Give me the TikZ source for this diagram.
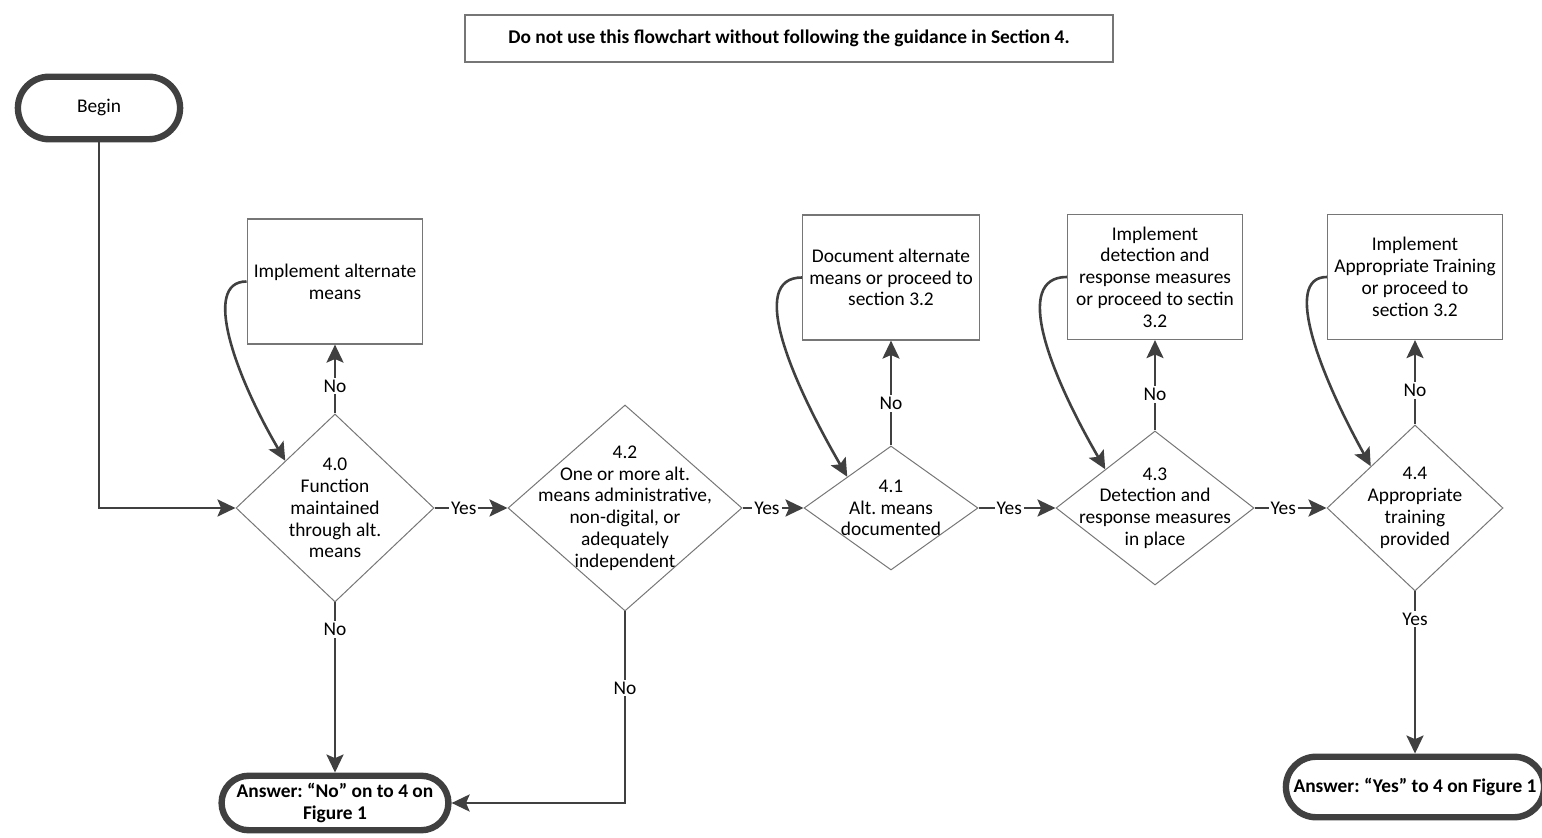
\documentclass[tikz,border=0pt]{standalone}
\usepackage{fontspec}
\setmainfont{Carlito}
\frenchspacing
\usepackage{tikz}
\usetikzlibrary{shapes,arrows.meta}
\usetikzlibrary{positioning}
\usetikzlibrary{shapes.geometric,shapes.misc}
\definecolor{linegray}{RGB}{64,64,64}
\definecolor{boxgray}{RGB}{118,118,118}
\tikzstyle{decision} = [draw=boxgray, diamond, inner sep=0pt, line width=0.5pt]
\tikzstyle{block} = [draw=boxgray, rectangle, align=center, line width=0.6pt,
minimum width=87.5pt, minimum height=62.5pt]
\tikzstyle{line} = [draw, -{Stealth[length=9pt,width=8.5pt,inset=1.8pt]}, color=linegray, line width=1.3pt]

\begin{document}
\begin{tikzpicture}[x=0.5pt, y=-0.5pt, font=\fontsize{9.7}{10.9}\selectfont,
	terminal/.style={draw=linegray, rounded rectangle, line width=3.2pt, align=center},
	tag/.style={fill=white, inner sep=1pt, text=black}]
	\useasboundingbox (0,0) rectangle (1542,838);
	\node [draw=boxgray, line width=0.6pt, minimum width=324pt, minimum height=23.5pt,
		font=\fontsize{9.7}{10.9}\selectfont\bfseries] (warn) at (789,38.5)
		{Do not use this flowchart without following the guidance in Section 4.};
	\node [terminal, minimum width=87.75pt, minimum height=31.25pt] (begin) at (99,108) {Begin};
	%% Questions
	\node [decision, minimum width=99pt, minimum height=94pt, label={[align=center]center:{4.0\\Function\\maintained\\through alt.\\means}}] (d40) at (335,508) {};
	\node [decision, minimum width=117pt, minimum height=103pt, label={[align=center]center:{4.2\\One or more alt.\\means administrative,\\non-digital, or\\adequately\\independent}}] (d42) at (625,508) {};
	\node [decision, minimum width=87pt, minimum height=62pt, label={[align=center]center:{4.1\\Alt. means\\documented}}] (d41) at (891,508) {};
	\node [decision, minimum width=99pt, minimum height=77pt, label={[align=center]center:{4.3\\Detection and\\response measures\\in place}}] (d43) at (1155,508) {};
	\node [decision, minimum width=88pt, minimum height=83pt, label={[align=center]center:{4.4\\Appropriate\\training\\provided}}] (d44) at (1415,508) {};
	%% Actions
	\node [block] (b40) at (335,281.5) {Implement alternate\\means};
	\node [block] (b41) at (891,277.5) {Document alternate\\means or proceed to\\section 3.2};
	\node [block] (b43) at (1155,277) {Implement\\detection and\\response measures\\or proceed to sectin\\3.2};
	\node [block] (b44) at (1415,277) {Implement\\Appropriate Training\\or proceed to\\section 3.2};
	%% Answers
	\node [terminal, font=\fontsize{9.7}{10.9}\selectfont\bfseries, minimum width=108.75pt, minimum height=27.25pt] (ansno) at (335,803) {Answer: “No” on to 4 on\\Figure 1};
	\node [terminal, font=\fontsize{9.7}{10.9}\selectfont\bfseries, minimum width=135.75pt, minimum height=30.25pt] (ansyes) at (1415,787) {Answer: “Yes” to 4 on Figure 1};
	%% Flows
	\path [line] (begin.south) |- (d40.west);
	\path [line] (d40.east) to node [tag, pos=0.4] {Yes} (d42.west);
	\path [line] (d42.east) to node [tag, pos=0.4] {Yes} (d41.west);
	\path [line] (d41.east) to node [tag, pos=0.4] {Yes} (d43.west);
	\path [line] (d43.east) to node [tag, pos=0.4] {Yes} (d44.west);
	\path [line] (d40.north) to node [tag, pos=0.4] {No} (b40.south);
	\path [line] (d41.north) to node [tag, pos=0.4] {No} (b41.south);
	\path [line] (d43.north) to node [tag, pos=0.4] {No} (b43.south);
	\path [line] (d44.north) to node [tag, pos=0.4] {No} (b44.south);
	\path [line] (d40.south) to node [tag, pos=0.16] {No} (ansno.north);
	\path [line] (d42.south) |- node [tag, pos=0.2] {No} (ansno.east);
	\path [line] (d44.south) to node [tag, pos=0.17] {Yes} (ansyes.north);
	%% Back again
	\path [line] (b40.west) .. controls +(-45,0) and +(-50,-85) .. (d40.north west);
	\path [line] (b41.west) .. controls +(-55,0) and +(-55,-95) .. (d41.north west);
	\path [line] (b43.west) .. controls +(-55,0) and +(-55,-95) .. (d43.north west);
	\path [line] (b44.west) .. controls +(-45,0) and +(-50,-90) .. (d44.north west);
\end{tikzpicture}
\end{document}
